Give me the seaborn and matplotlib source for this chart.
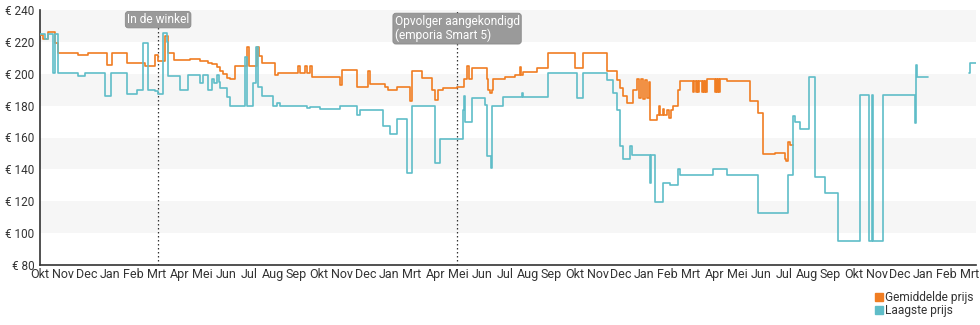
import numpy as np
import pandas as pd
import matplotlib
matplotlib.use("Agg")
import matplotlib.pyplot as plt
from matplotlib.lines import Line2D
import seaborn as sns

# --- data -----------------------------------------------------------------
# x values are months counted from the first tick (Okt); prices in euro.
month_labels = [
    "Okt", "Nov", "Dec", "Jan", "Feb", "Mrt", "Apr", "Mei", "Jun", "Jul", "Aug", "Sep",
    "Okt", "Nov", "Dec", "Jan", "Mrt", "Apr", "Mei", "Jun", "Jul", "Aug", "Sep",
    "Okt", "Nov", "Dec", "Jan", "Feb", "Mrt", "Apr", "Mei", "Jun", "Jul", "Aug", "Sep",
    "Okt", "Nov", "Dec", "Jan", "Feb", "Mrt",
]

avg_months = [
    0.00, 0.13, 0.34, 0.65, 0.77, 1.63, 2.06, 2.88, 3.10, 3.74, 4.52, 4.95, 5.08,
    5.38, 5.51, 5.75, 6.45, 6.88, 7.23, 7.40, 7.61, 7.74, 7.87, 8.04, 8.17, 8.39,
    8.90, 8.98, 9.33, 9.40, 9.55, 10.11, 10.24, 11.10, 11.18, 11.40, 11.48, 11.61,
    11.70, 12.90, 12.99, 13.63, 14.11, 14.19, 14.84, 14.97, 15.35, 15.91, 16.00,
    16.43, 16.86, 16.99, 17.12, 17.33, 17.94, 18.24, 18.37, 18.45, 18.58, 19.23,
    19.27, 19.35, 19.44, 19.48, 20.00, 20.43, 20.65, 20.70, 20.77, 21.38, 21.85,
    23.01, 23.35, 24.39, 24.82, 24.95, 25.08, 25.25, 25.51, 25.68, 25.75, 25.85,
    25.92, 26.02, 26.10, 26.18, 26.24, 26.54, 26.62, 26.68, 26.80, 26.86, 26.97,
    27.05, 27.12, 27.23, 27.44, 27.53, 28.09, 28.13, 28.20, 28.24, 28.30, 28.34,
    28.47, 28.51, 28.56, 28.60, 28.65, 28.69, 28.95, 29.03, 29.07, 29.12, 29.16,
    29.20, 29.24, 29.55, 30.54, 30.88, 31.10, 31.61, 32.04, 32.10, 32.17, 32.25,
    32.39,
]
avg_prices = [
    224.5, 222.0, 226.0, 219.0, 213.0, 212.0, 213.0, 205.5, 213.0, 206.5, 204.6, 211.9, 208.3,
    224.0, 213.0, 208.5, 209.0, 208.0, 207.0, 206.0, 204.0, 202.0, 200.0, 197.5, 196.7, 204.6,
    217.0, 204.6, 217.0, 211.0, 207.0, 199.4, 200.4, 204.6, 200.4, 204.6, 200.4, 204.6,
    198.0, 193.0, 202.5, 191.7, 201.5, 193.8, 192.0, 190.0, 191.7, 182.7, 201.5,
    197.3, 190.0, 183.8, 190.0, 191.0, 192.0, 197.0, 204.6, 197.0, 203.5, 197.0,
    190.0, 188.0, 190.0, 197.0, 198.0, 199.4, 204.0, 199.4, 200.8, 203.5, 213.3,
    203.5, 213.3, 202.0, 196.0, 191.0, 186.0, 181.7, 190.0, 197.0, 185.0, 197.0,
    184.0, 196.0, 185.0, 195.0, 171.0, 174.4, 180.0, 174.4, 178.0, 174.4, 177.5,
    172.0, 177.5, 180.0, 190.0, 195.2, 188.4, 195.2, 188.4, 195.2, 188.4, 195.2,
    188.4, 195.2, 188.4, 195.2, 188.4, 196.7, 196.7, 188.4, 196.7, 188.4, 196.7,
    188.4, 196.7, 195.6, 182.7, 175.4, 149.4, 150.4, 146.3, 145.2, 157.0, 155.0,
    155.0,
]

# NaN marks the period without a lowest price
low_months = [
    0.00, 0.22, 0.34, 0.56, 0.65, 0.77, 1.63, 1.94, 2.80, 3.05, 3.74, 4.17, 4.43,
    4.65, 4.95, 5.08, 5.29, 5.45, 5.51, 6.02, 6.37, 6.88, 7.01, 7.23, 7.40, 7.50,
    7.61, 7.70, 7.74, 8.04, 8.17, 8.82, 8.90, 9.16, 9.30, 9.38, 9.55, 10.02, 10.19,
    10.32, 11.48, 11.61, 12.04, 12.90, 13.63, 13.76, 14.75, 15.05, 15.35, 15.78,
    16.00, 16.10, 16.99, 17.20, 18.19, 18.24, 18.28, 18.58, 18.62, 19.14, 19.23,
    19.40, 19.44, 19.91, 20.73, 20.77, 21.85, 23.10, 23.35, 24.39, 24.65, 24.82,
    24.95, 25.08, 25.38, 25.46, 26.24, 26.30, 26.45, 26.80, 27.10, 27.44, 27.53,
    28.95, 29.55, 30.88, 32.17, 32.39, 32.47, 32.69, 33.08, 33.33, 33.76, 34.32,
    35.27, 35.66, 35.78, 35.83, 36.26, 37.63, 37.66, 37.72, 38.19,
    np.nan,
    39.96, 40.00, 40.30,
]
low_prices = [
    225.0, 221.7, 225.0, 200.4, 225.0, 200.4, 198.8, 200.4, 186.3, 200.4, 187.0, 190.0, 219.2,
    190.0, 189.0, 187.0, 225.6, 220.0, 198.8, 190.0, 199.4, 194.4, 199.4, 190.0, 197.0, 194.0,
    199.0, 195.0, 191.0, 185.6, 180.0, 210.8, 180.0, 194.2, 217.0, 192.0, 185.8, 179.6, 181.7,
    180.0, 178.5, 179.0, 178.1, 180.0, 174.4, 177.5, 167.0, 161.9, 171.7, 137.9,
    179.6, 180.0, 144.2, 159.2, 177.5, 185.8, 169.6, 184.8, 185.0, 180.6, 148.3,
    141.0, 180.0, 185.2, 188.0, 185.2, 200.6, 184.8, 200.6, 196.3, 188.0, 177.5,
    154.6, 146.3, 154.6, 149.0, 131.7, 149.0, 119.6, 131.7, 130.0, 140.0, 136.5,
    140.0, 136.5, 112.5, 136.5, 173.3, 169.6, 165.4, 198.0, 135.2, 125.4, 95.2,
    186.9, 95.2, 186.9, 95.2, 186.9, 169.2, 205.6, 198.0, 198.0,
    np.nan,
    200.4, 206.5, 206.5,
]

events = [(5.08, "In de winkel"), (17.94, "Opvolger aangekondigd\n(emporia Smart 5)")]
y_ticks = [80, 100, 120, 140, 160, 180, 200, 220, 240]

AVG = "Gemiddelde prijs"
LOW = "Laagste prijs"
colors = {AVG: "#f07d22", LOW: "#5fbdc8"}


def to_frame(months, prices, name):
    """Long-form rows; a NaN month starts a new line segment."""
    rows, seg = [], 0
    for m, p in zip(months, prices):
        if np.isnan(m):
            seg += 1
            continue
        rows.append({"maand": m, "prijs": p, "reeks": name, "segment": f"{name}-{seg}"})
    return pd.DataFrame(rows)


df = pd.concat([to_frame(avg_months, avg_prices, AVG),
                to_frame(low_months, low_prices, LOW)], ignore_index=True)

# --- figure ---------------------------------------------------------------
sns.set_theme(style="white")
plt.rcParams["font.family"] = ["Roboto", "DejaVu Sans"]
text_color = "#333333"

fig = plt.figure(figsize=(9.8, 3.25), dpi=100)
ax = fig.add_axes([40 / 980, 60 / 325, 936 / 980, 255 / 325])

# alternating horizontal bands
for lo in (100, 140, 180, 220):
    ax.axhspan(lo, lo + 20, color="#f6f6f6", zorder=0, lw=0)

sns.lineplot(data=df, x="maand", y="prijs", hue="reeks", units="segment",
             estimator=None, sort=False, drawstyle="steps-post",
             palette=colors, linewidth=1.2, legend=False, ax=ax, zorder=3)

ax.set_xlim(0, 40.26)
ax.set_ylim(80, 240)
ax.set_xlabel("")
ax.set_ylabel("")

ax.set_yticks(y_ticks)
ax.set_yticklabels([f"€ {v}" for v in y_ticks])
ax.set_xticks(range(len(month_labels)))
ax.set_xticklabels(month_labels)

ax.tick_params(axis="y", direction="inout", length=6, width=1, colors=text_color,
               labelsize=8.5, pad=1)
ax.tick_params(axis="x", direction="in", length=4, width=1, colors=text_color,
               labelsize=9, pad=2)

for side in ("top", "right"):
    ax.spines[side].set_visible(False)
for side in ("left", "bottom"):
    ax.spines[side].set_color(text_color)
    ax.spines[side].set_linewidth(1.2)

# event markers
for x, label in events:
    ax.axvline(x, color=text_color, lw=0.9, ls=(0, (1.2, 2)), zorder=2)
    nlines = label.count("\n") + 1
    yfrac = 0.962 if nlines == 1 else 0.927
    ax.text(x, yfrac, label, transform=ax.get_xaxis_transform(),
            ha="center", va="center", multialignment="left",
            color="white", fontsize=8.6, zorder=5, linespacing=1.1,
            bbox=dict(boxstyle="round,pad=0.14,rounding_size=0.25",
                      fc="#9a9a9a", ec="#8a8a8a", lw=0.6))

# legend with square markers
handles = [Line2D([], [], marker="s", ls="none", color=colors[n], markersize=5.5)
           for n in (AVG, LOW)]
fig.legend(handles, [AVG, LOW], loc="upper left",
           bbox_to_anchor=(875 / 980, 1 - 291 / 325), frameon=False,
           fontsize=8.6, handlelength=0.6, handletextpad=0.25, labelspacing=0.0,
           borderpad=0, borderaxespad=0, labelcolor=text_color)

fig.savefig("out.png", dpi=100)
